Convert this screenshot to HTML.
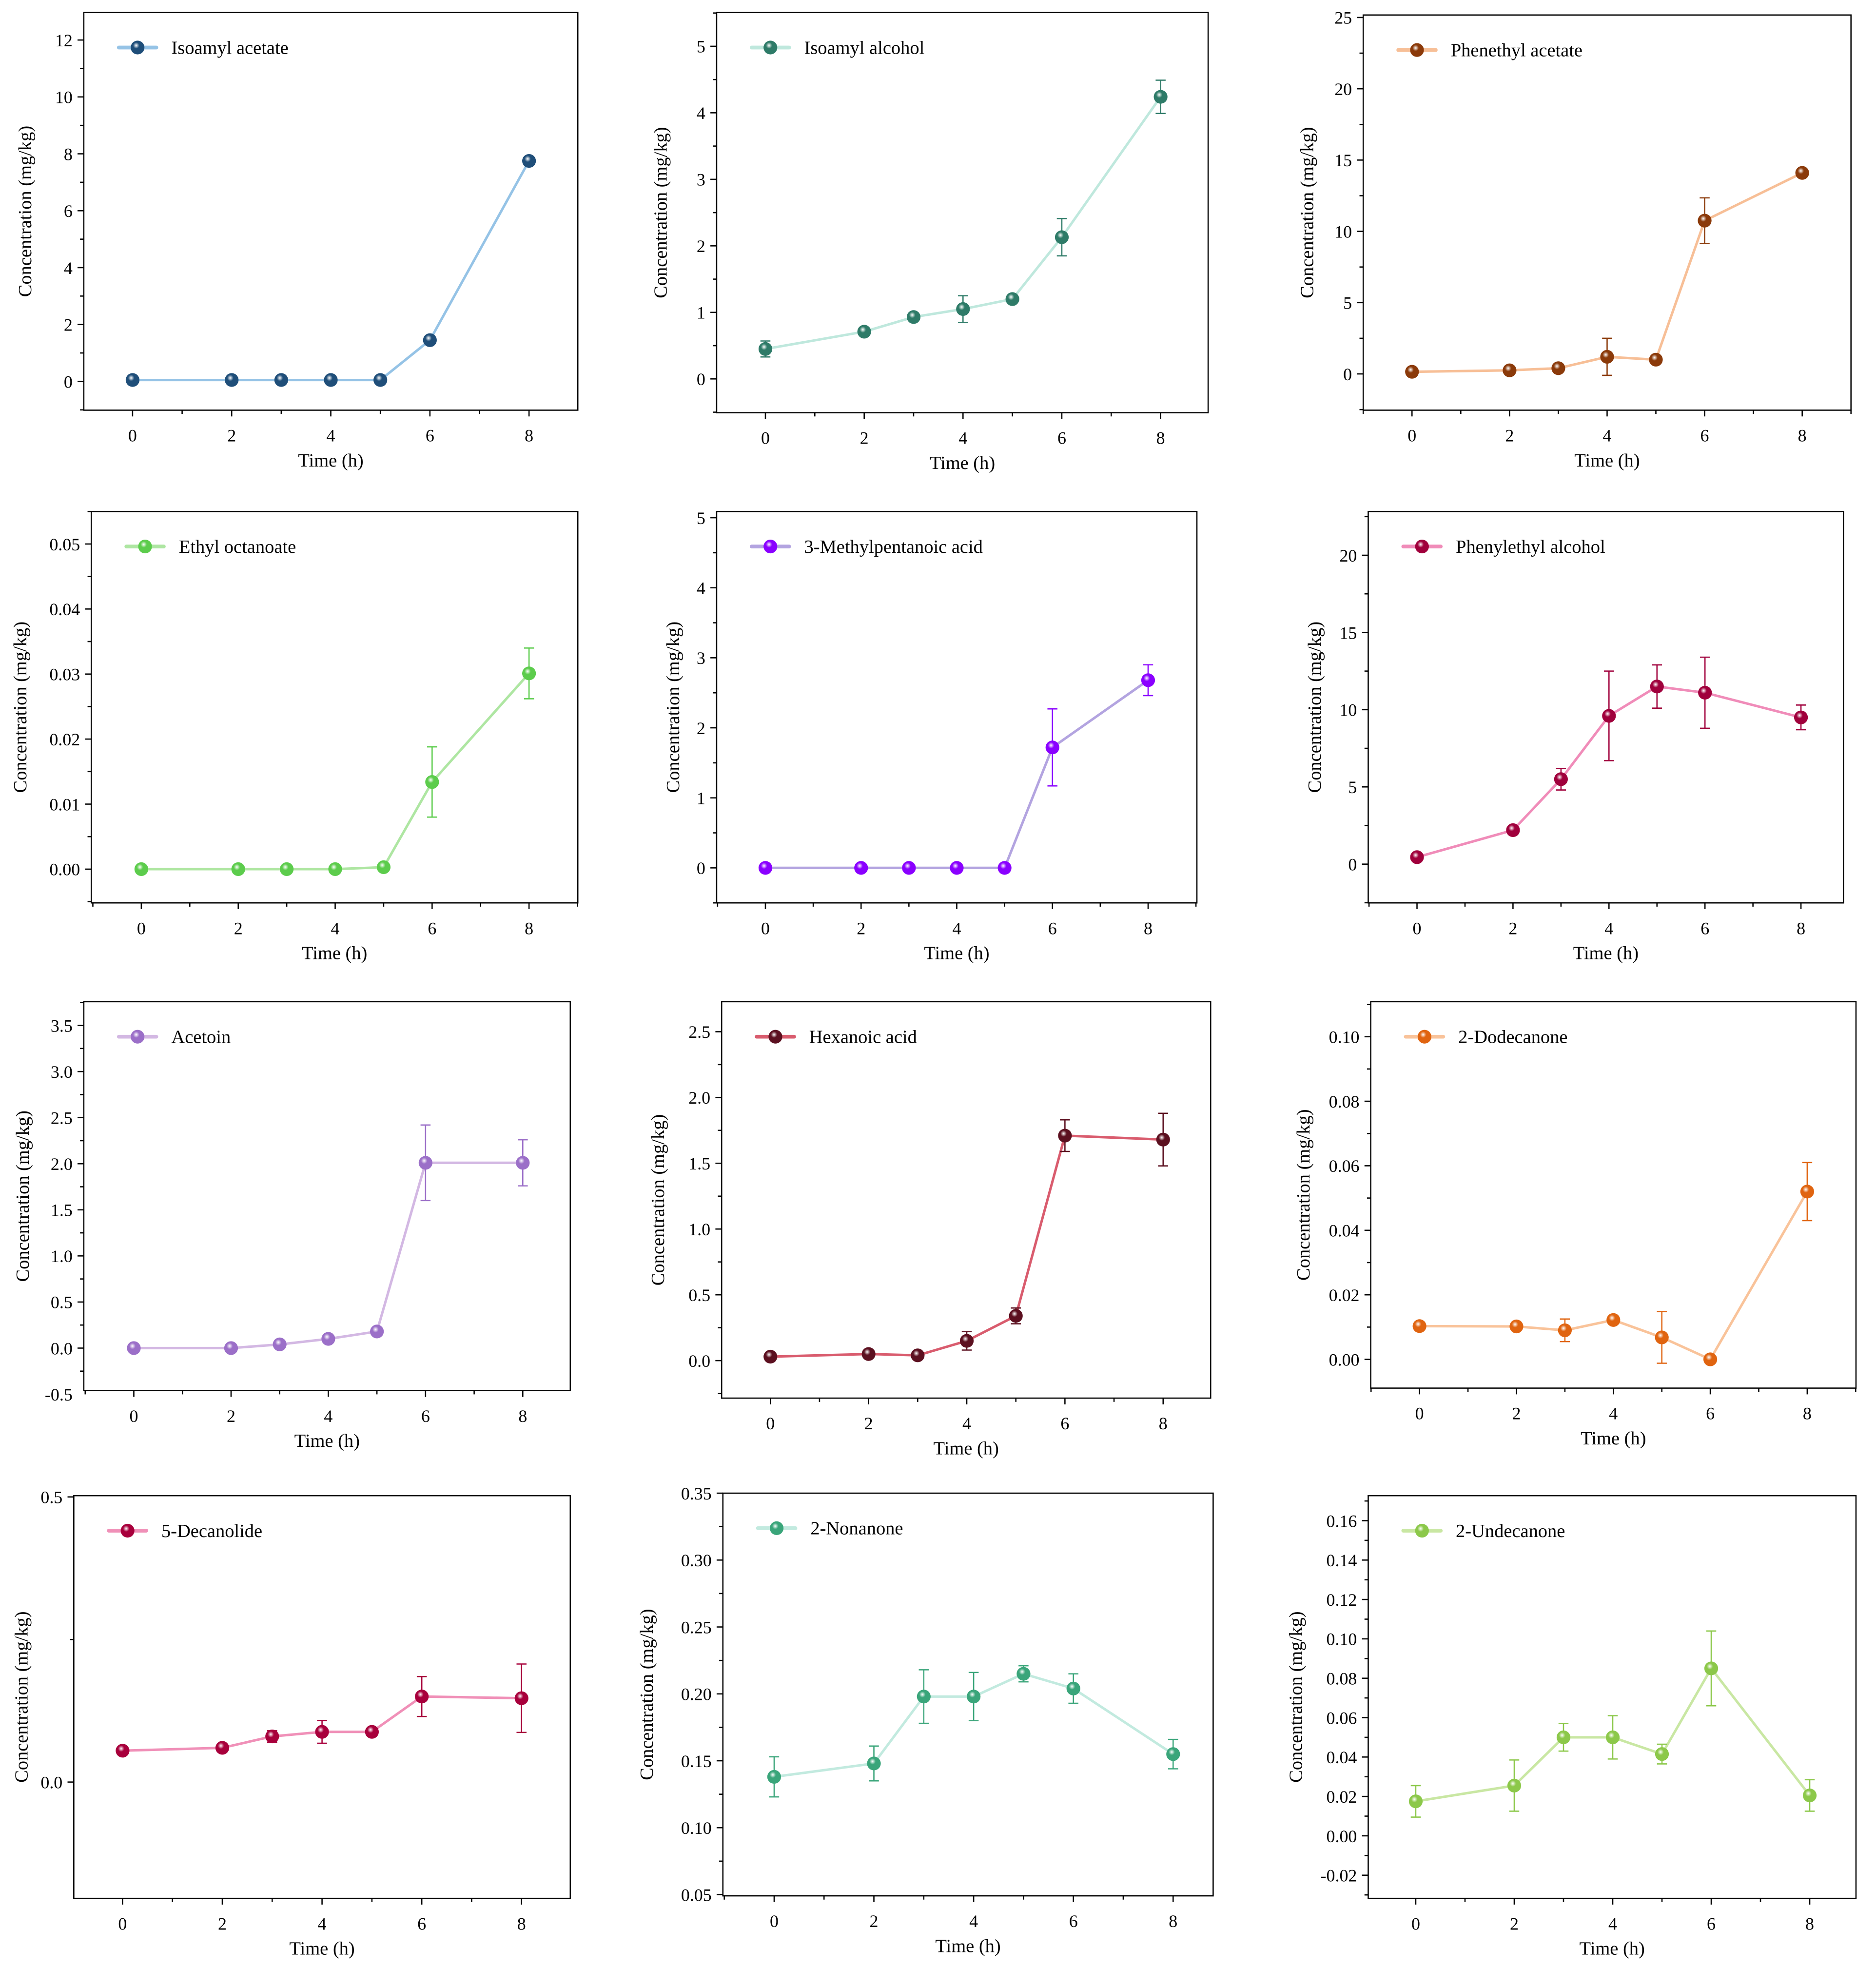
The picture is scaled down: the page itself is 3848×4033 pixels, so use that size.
<!DOCTYPE html>
<html><head><meta charset="utf-8"><style>
html,body{margin:0;padding:0;background:#fff}
svg{display:block}
svg text{font-family:"Liberation Serif","Times New Roman",serif}
</style></head><body>
<svg id="fig" width="3848" height="4033" viewBox="0 0 1500 1572.1" preserveAspectRatio="none" xmlns="http://www.w3.org/2000/svg" font-family="Liberation Serif, serif"><defs id="defs"></defs></svg>
<script>
const times=[0,2,3,4,5,6,8];
const names=["Isoamyl acetate","Isoamyl alcohol","Phenethyl acetate","Ethyl octanoate","3-Methylpentanoic acid","Phenylethyl alcohol","Acetoin","Hexanoic acid","2-Dodecanone","5-Decanolide","2-Nonanone","2-Undecanone"];
const vIsoamylAcetate=[0.05,0.05,0.05,0.05,0.05,1.45,7.75];
const eIsoamylAcetate=[0,0,0,0,0,0.05,0.1];
const vIsoamylAlcohol=[0.45,0.71,0.93,1.05,1.2,2.13,4.24];
const eIsoamylAlcohol=[0.12,0,0,0.2,0,0.28,0.25];
const vPhenethylAcetate=[0.15,0.25,0.4,1.2,1.0,10.75,14.1];
const ePhenethylAcetate=[0,0,0,1.3,0,1.6,0];
const vEthylOctanoate=[0,0,0,0,0.0003,0.0134,0.0301];
const eEthylOctanoate=[0,0,0,0,0,0.0054,0.0039];
const vMethylpentanoic=[0,0,0,0,0,1.72,2.68];
const eMethylpentanoic=[0,0,0,0,0,0.55,0.22];
const vPhenylethylAlcohol=[0.45,2.2,5.5,9.6,11.5,11.1,9.5];
const ePhenylethylAlcohol=[0,0,0.7,2.9,1.4,2.3,0.8];
const vAcetoin=[0,0,0.04,0.1,0.18,2.01,2.01];
const eAcetoin=[0,0,0,0,0,0.41,0.25];
const vHexanoic=[0.03,0.05,0.04,0.15,0.34,1.71,1.68];
const eHexanoic=[0,0,0,0.07,0.06,0.12,0.2];
const vDodecanone=[0.0103,0.0102,0.009,0.0122,0.0068,0,0.052];
const eDodecanone=[0,0,0.0035,0,0.008,0,0.009];
const vDecanolide=[0.055,0.06,0.08,0.088,0.088,0.15,0.147];
const eDecanolide=[0,0,0.01,0.02,0,0.035,0.06];
const vNonanone=[0.138,0.148,0.198,0.198,0.215,0.204,0.155];
const eNonanone=[0.015,0.013,0.02,0.018,0.006,0.011,0.011];
const vUndecanone=[0.0175,0.0255,0.05,0.05,0.0415,0.085,0.0205];
const eUndecanone=[0.008,0.013,0.007,0.011,0.005,0.019,0.008];
const yTicks1=["0","2","4","6","8","10","12"];
const yTicks2=["0","1","2","3","4","5"];
const yTicks3=["0","5","10","15","20","25"];
const yTicks4=["0.00","0.01","0.02","0.03","0.04","0.05"];
const yTicks5=["0","1","2","3","4","5"];
const yTicks6=["0","5","10","15","20"];
const yTicks7=["-0.5","0.0","0.5","1.0","1.5","2.0","2.5","3.0","3.5"];
const yTicks8=["0.0","0.5","1.0","1.5","2.0","2.5"];
const yTicks9=["0.00","0.02","0.04","0.06","0.08","0.10"];
const yTicks10=["0.0","0.5"];
const yTicks11=["0.05","0.10","0.15","0.20","0.25","0.30","0.35"];
const yTicks12=["-0.02","0.00","0.02","0.04","0.06","0.08","0.10","0.12","0.14","0.16"];
const xTicks=[0,2,4,6,8];

const panels=[
 {v:vIsoamylAcetate,e:eIsoamylAcetate,t:yTicks1,box:[67,10,462,328],xp:[106,423],ym:[0,305,12,32],lc:"#95c3e6",mc:"#1f4e79"},
 {v:vIsoamylAlcohol,e:eIsoamylAlcohol,t:yTicks2,box:[573,10,966,330],xp:[612,928],ym:[0,303,5,37],lc:"#bfe8dd",mc:"#2e7b68"},
 {v:vPhenethylAcetate,e:ePhenethylAcetate,t:yTicks3,box:[1090,12,1480,328],xp:[1129,1441],ym:[0,299,25,14],lc:"#f7bf97",mc:"#8b3a0a"},
 {v:vEthylOctanoate,e:eEthylOctanoate,t:yTicks4,box:[73,409,462,722],xp:[113,423],ym:[0,695,0.05,435],lc:"#aee6a2",mc:"#5ccc4c"},
 {v:vMethylpentanoic,e:eMethylpentanoic,t:yTicks5,box:[573,409,957,722],xp:[612,918],ym:[0,694,5,414],lc:"#b3a4e0",mc:"#8a00ff"},
 {v:vPhenylethylAlcohol,e:ePhenylethylAlcohol,t:yTicks6,box:[1094,409,1474,722],xp:[1133,1440],ym:[0,691,20,444],lc:"#f08cb9",mc:"#a0003c"},
 {v:vAcetoin,e:eAcetoin,t:yTicks7,box:[67,801,456,1112],xp:[107,418],ym:[0,1078,3.5,820],lc:"#d3b8e3",mc:"#9b6fc8"},
 {v:vHexanoic,e:eHexanoic,t:yTicks8,box:[577,801,968,1118],xp:[616,930],ym:[0,1088,2.5,825],lc:"#d95c6e",mc:"#5c1020"},
 {v:vDodecanone,e:eDodecanone,t:yTicks9,box:[1096,801,1484,1110],xp:[1135,1445],ym:[0,1087,0.1,829],lc:"#f9c39a",mc:"#e06410"},
 {v:vDecanolide,e:eDecanolide,t:yTicks10,box:[59,1196,456,1518],xp:[98,417],ym:[0,1425,0.5,1197],lc:"#f090b8",mc:"#a8003c"},
 {v:vNonanone,e:eNonanone,t:yTicks11,box:[578,1194,970,1516],xp:[619,938],ym:[0.05,1515,0.35,1194],lc:"#c2eadf",mc:"#3aa57a"},
 {v:vUndecanone,e:eUndecanone,t:yTicks12,box:[1094,1196,1484,1518],xp:[1132,1447],ym:[0,1468,0.16,1216],lc:"#c9e7a3",mc:"#8cc84a"}
];
const ytx=[20,528,1045,16,538,1051,18,526,1042,17,517,1036];
const NS="http://www.w3.org/2000/svg";
const svg=document.getElementById('fig');
const defs=document.getElementById('defs');
const FF="Liberation Serif, Times New Roman, serif";
function mk(tag,attrs,parent){const el=document.createElementNS(NS,tag);for(const k in attrs)el.setAttribute(k,attrs[k]);if(tag==='text')el.setAttribute('font-family',FF);(parent||svg).appendChild(el);return el;}
function slug(s){return s.toLowerCase().replace(/[^a-z0-9]+/g,'-').replace(/^-|-$/g,'');}
panels.forEach((p,i)=>{
  const id=slug(names[i]);
  const g=mk('g',{});
  
  
  const gr=mk('radialGradient',{id:'gr'+i,cx:'0.4',cy:'0.35',r:'0.65'},defs);
  mk('stop',{offset:'0','stop-color':'#ffffff'},gr);
  mk('stop',{offset:'0.35','stop-color':p.mc},gr);
  mk('stop',{offset:'1','stop-color':p.mc},gr);
  const [x1,y1,x2,y2]=p.box;
  const X=t=>p.xp[0]+(p.xp[1]-p.xp[0])*t/8;
  const Y=v=>p.ym[1]+(p.ym[3]-p.ym[1])*(v-p.ym[0])/(p.ym[2]-p.ym[0]);
  const frame=mk('rect',{x:x1,y:y1,width:x2-x1,height:y2-y1,fill:'none',stroke:'#000','stroke-width':1},g);
  
  
  for(let t=-1;t<=9;t++){const xx=X(t);if(xx<x1||xx>x2)continue;const major=t%2===0&&t>=0&&t<=8;
    mk('line',{x1:xx,y1:y2,x2:xx,y2:y2+(major?5:3),stroke:'#000','stroke-width':1},g);}
  xTicks.forEach(t=>{const tx=mk('text',{x:X(t),y:y2+25,'font-size':14,'text-anchor':'middle'},g);tx.textContent=t;
    
    });
  const xt=mk('text',{x:(x1+x2)/2,y:y2+45,'font-size':15,'text-anchor':'middle'},g);xt.textContent='Time (h)';
  
  
  const tv=p.t.map(Number);const step=tv.length>1?tv[1]-tv[0]:0.5;
  for(let k=-4;k<=tv.length*2+4;k++){const v=tv[0]+k*step/2;const yy=Y(v);if(yy<y1-0.5||yy>y2+0.5)continue;
    mk('line',{x1:x1,y1:yy,x2:x1-(k%2===0?5:3),y2:yy,stroke:'#000','stroke-width':1},g);}
  p.t.forEach(s=>{const tx=mk('text',{x:x1-9,y:Y(Number(s))+5,'font-size':14,'text-anchor':'end'},g);tx.textContent=s;
    
    });
  const yc=(y1+y2)/2, yx=ytx[i]+5;
  const yt=mk('text',{x:yx,y:yc,'font-size':15,'text-anchor':'middle',transform:`rotate(-90 ${yx} ${yc})`},g);yt.textContent='Concentration (mg/kg)';
  
  
  const pts=times.map((t,j)=>X(t)+','+Y(p.v[j])).join(' ');
  const ln=mk('polyline',{points:pts,fill:'none',stroke:p.lc,'stroke-width':2},g);
  
  
  times.forEach((t,j)=>{if(!p.e[j])return;const xx=X(t),a=Y(p.v[j]-p.e[j]),b=Y(p.v[j]+p.e[j]);
    const eb=mk('path',{d:`M${xx},${a}V${b}M${xx-4},${a}H${xx+4}M${xx-4},${b}H${xx+4}`,stroke:p.mc,'stroke-width':1,fill:'none'},g);
    
    });
  times.forEach((t,j)=>{const c=mk('circle',{cx:X(t),cy:Y(p.v[j]),r:5.5,fill:`url(#gr${i})`},g);
    
    });
  const ly=y1+28,lx=x1+28;
  const lg=mk('g',{},g);
  
  
  mk('line',{x1:lx,y1:ly,x2:lx+30,y2:ly,stroke:p.lc,'stroke-width':3,'stroke-linecap':'round'},lg);
  mk('circle',{cx:lx+15,cy:ly,r:5.5,fill:`url(#gr${i})`},lg);
  const lt=mk('text',{x:lx+42,y:ly+5,'font-size':15},lg);lt.textContent=names[i];
});
</script>
</body></html>
